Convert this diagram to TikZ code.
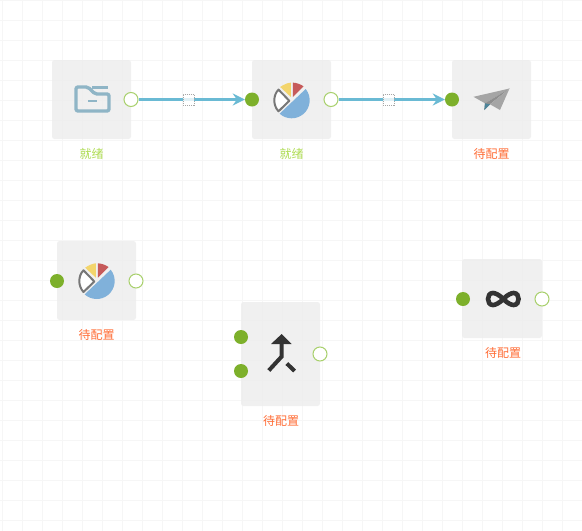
\documentclass[tikz,border=0pt]{standalone}
\usepackage{fontspec}
\newfontfamily\cjk{Noto Sans CJK SC}
\usetikzlibrary{arrows.meta}
\definecolor{gridc}{HTML}{F6F6F6}
\definecolor{boxc}{HTML}{EEEEEE}
\definecolor{portfill}{HTML}{7DB02B}
\definecolor{portline}{HTML}{A8D06C}
\definecolor{flow}{HTML}{6ABAD4}
\definecolor{ready}{HTML}{AEDC52}
\definecolor{pending}{HTML}{FF6D36}
\definecolor{folderc}{HTML}{8FB5C6}
\definecolor{pieblue}{HTML}{80B1DA}
\definecolor{pieyellow}{HTML}{F3D56C}
\definecolor{piered}{HTML}{C65A5A}
\definecolor{piegray}{HTML}{777777}
\definecolor{planec}{HTML}{A5A5A5}
\definecolor{planed}{HTML}{8E8E8E}
\definecolor{planet}{HTML}{4D8499}
\definecolor{iconk}{HTML}{333333}
\tikzset{
  x=1pt,y=-1pt,
  gridline/.style={gridc,line width=1pt},
  taskbox/.style={fill=boxc,opacity=.88,rounded corners=2.5pt},
  inport/.style={circle,fill=portfill,draw=none,minimum size=14pt,inner sep=0pt},
  outport/.style={circle,fill=white,draw=portline,line width=1pt,minimum size=14pt,inner sep=0pt},
  flowline/.style={flow,line width=2.2pt,-{Stealth[length=12pt,width=12pt,inset=4pt]}},
  midmark/.style={draw=gray!70,dash pattern=on 1pt off 1pt,line width=.5pt,fill=white,fill opacity=.8,minimum size=11pt,inner sep=0pt},
  tasklabel/.style={font=\cjk\fontsize{12}{14}\selectfont,inner sep=0pt},
  readytext/.style={tasklabel,text=ready},
  pendingtext/.style={tasklabel,text=pending},
  pics/pie/.style={code={
    \fill[pieblue] (14,-11.3) arc[start angle=-38.9,end angle=132,radius=18] -- cycle;
    \fill[pieyellow] (-11.5,-13.3) .. controls (-8,-15.8) and (-4,-17.5) .. (-.8,-17.7) -- (-.8,-3.3) -- cycle;
    \fill[piered] (1.2,-17.7) .. controls (5,-17.5) and (9,-16) .. (11.8,-14) -- (1.2,-3.3) -- cycle;
    \draw[piegray,fill=white,line width=2pt,line join=round] (-13.2,-10.7) -- (-2.4,.5) -- (-13.2,11) .. controls (-18.8,5) and (-18.8,-5) .. (-13.2,-10.7) -- cycle;
  }}
}
\begin{document}
\begin{tikzpicture}
\useasboundingbox (0,0) rectangle (582,531);
\fill[white] (0,0) rectangle (582,531);
\foreach \gx in {2.5,22.5,...,582} {\draw[gridline] (\gx,0) -- (\gx,531);}
\foreach \gy in {0.5,20.5,...,531} {\draw[gridline] (0,\gy) -- (582,\gy);}

% task boxes
\fill[taskbox] (52,60) rectangle (131,139);
\fill[taskbox] (252,60) rectangle (331,139);
\fill[taskbox] (452,60) rectangle (531,139);
\fill[taskbox] (57,241) rectangle (136,320);
\fill[taskbox] (241,302) rectangle (320,406);
\fill[taskbox] (462,259) rectangle (542,338);

% folder icon
\draw[folderc,line width=3.4pt,line join=round,rounded corners=2pt] (76,87) -- (88,87) -- (95,94) -- (109,94) -- (109,111) -- (76,111) -- cycle;
\draw[folderc,line width=2.5pt] (92,87.5) -- (108,87.5);
\draw[folderc,line width=2.5pt] (88,101) -- (97,101);

% pie icons
\pic at (291.7,100.3) {pie};
\pic at (96.7,281) {pie};

% paper plane icon
\fill[planec] (509.5,88.5) -- (473.5,96.8) -- (485,103.3) -- cycle;
\fill[planed] (509.5,88.5) -- (485,103.3) -- (484.3,110) -- (490,104.3) -- cycle;
\fill[planec] (509.5,88.5) -- (490,104.3) -- (500,110) -- cycle;
\fill[planet] (485,103.3) -- (484.3,110) -- (490,104.3) -- cycle;

% merge icon
\fill[iconk] (281.7,334) -- (271,344) -- (291.7,344) -- cycle;
\draw[iconk,line width=4pt,line join=miter] (281.7,343) -- (281.7,356.5) -- (268.8,370.5);
\draw[iconk,line width=4pt] (286.8,363.5) -- (294.6,371);

% infinity icon
\draw[iconk,line width=4.6pt] (503.3,299) .. controls (499,294.5) and (495,293) .. (493,293) .. controls (489.5,293) and (488,296) .. (488,299) .. controls (488,302) and (489.5,305) .. (493,305) .. controls (495,305) and (499,303.5) .. (503.3,299) .. controls (507.6,294.5) and (511.6,293) .. (513.6,293) .. controls (517.1,293) and (518.6,296) .. (518.6,299) .. controls (518.6,302) and (517.1,305) .. (513.6,305) .. controls (511.6,305) and (507.6,303.5) .. (503.3,299) -- cycle;

% ports
\node[outport] (o1) at (131,99.5) {};
\node[inport] (i2) at (252,99.5) {};
\node[outport] (o2) at (331,99.5) {};
\node[inport] (i3) at (452,99.5) {};
\node[inport] (i4) at (57,281) {};
\node[outport] (o4) at (136,281) {};
\node[inport] (i5a) at (241,337) {};
\node[inport] (i5b) at (241,371) {};
\node[outport] (o5) at (320,354) {};
\node[inport] (i6) at (463,299) {};
\node[outport] (o6) at (542,299) {};

% connectors
\draw[flowline] (o1) -- node[midmark,pos=.475] (m1) {} (i2);
\draw[flowline] (o2) -- node[midmark,pos=.475] (m2) {} (i3);

% labels
\node[readytext] (l1) at (91.5,154) {就绪};
\node[readytext] (l2) at (291.5,154) {就绪};
\node[pendingtext] (l3) at (491.5,154) {待配置};
\node[pendingtext] (l4) at (96.5,335) {待配置};
\node[pendingtext] (l5) at (281,421) {待配置};
\node[pendingtext] (l6) at (503,352.5) {待配置};
\end{tikzpicture}
\end{document}
